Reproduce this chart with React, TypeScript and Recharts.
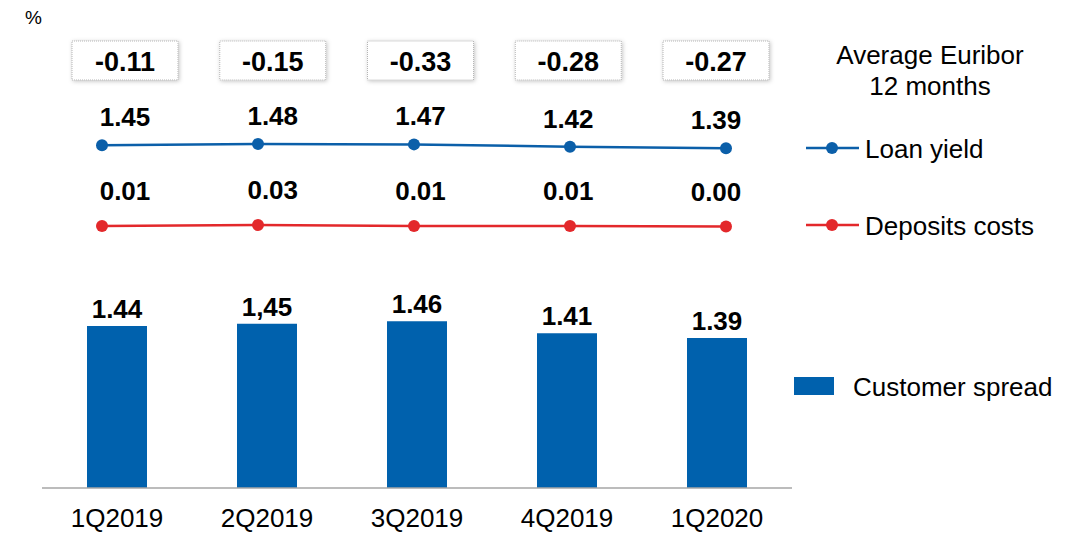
import { Bar, ComposedChart, LabelList, Legend, Line, XAxis, YAxis } from 'recharts'

const quarters = ['1Q2019', '2Q2019', '3Q2019', '4Q2019', '1Q2020']
const euribor = [-0.11, -0.15, -0.33, -0.28, -0.27]
const loanYield = [1.45, 1.48, 1.47, 1.42, 1.39]
const depositsCosts = [0.01, 0.03, 0.01, 0.01, 0.0]
const customerSpread = [1.44, 1.45, 1.46, 1.41, 1.39]
const spreadLabels = ['1.44', '1,45', '1.46', '1.41', '1.39']

const data = quarters.map((q, i) => ({
  quarter: q,
  euribor: euribor[i],
  loan: loanYield[i],
  deposits: depositsCosts[i],
  spread: customerSpread[i],
}))

const FONT = '"Liberation Sans", Arial, sans-serif'
const BLUE_BAR = '#0061ad'
const BLUE_LINE = '#0b5fa9'
const RED_LINE = '#e3282b'

const boldText = (x: number, y: number, text: string, size = 26) => (
  <text x={x} y={y} textAnchor="middle" fontFamily={FONT} fontWeight={700} fontSize={size} fill="#000">
    {text}
  </text>
)

const barLabel = (props: any) => {
  const { x, y, width, index } = props
  return boldText(x + width / 2, y - 8, spreadLabels[index])
}

const pointLabel = (off: number) => (props: any) => {
  const { x, y, value } = props
  return boldText(x, y - off, Number(value).toFixed(2))
}

const euriborBox = (props: any) => {
  const { x, value } = props
  return (
    <g>
      <rect x={x - 53} y={41} width={106} height={39} fill="#fff" stroke="#b5b5b5"
        strokeDasharray="1 1" filter="url(#boxShadow)" />
      {boldText(x, 71, Number(value).toFixed(2), 27)}
    </g>
  )
}

const legendRows: Record<string, number> = { 'Loan yield': 148, 'Deposits costs': 225, 'Customer spread': 386 }

const renderLegend = (props: any) => {
  const seen = new Set<string>()
  const items = (props.payload || []).filter((p: any) => {
    if (!(p.value in legendRows) || seen.has(p.value)) return false
    seen.add(p.value)
    return true
  })
  return (
    <svg width={1087} height={534} style={{ position: 'absolute', left: 0, top: 0 }}>
      <text x={25} y={24} fontFamily={FONT} fontSize={19} fill="#000">%</text>
      <text x={930} y={64} textAnchor="middle" fontFamily={FONT} fontSize={26} fill="#000">Average Euribor</text>
      <text x={930} y={95} textAnchor="middle" fontFamily={FONT} fontSize={26} fill="#000">12 months</text>
      {items.map((p: any) => {
        const cy = legendRows[p.value]
        if (p.value === 'Customer spread') {
          return (
            <g key={p.value}>
              <rect x={794} y={cy - 9} width={40} height={18} fill={p.color} />
              <text x={853} y={cy + 9.5} fontFamily={FONT} fontSize={26} fill="#000">{p.value}</text>
            </g>
          )
        }
        return (
          <g key={p.value}>
            <line x1={806} x2={859} y1={cy} y2={cy} stroke={p.color} strokeWidth={2.5} />
            <circle cx={832} cy={cy} r={6} fill={p.color} />
            <text x={865} y={cy + 9.5} fontFamily={FONT} fontSize={26} fill="#000">{p.value}</text>
          </g>
        )
      })}
    </svg>
  )
}

export default function App() {
  return (
    <div style={{ position: 'absolute', left: 0, top: 0, width: 1087, height: 534, background: '#fff' }}>
      <svg width={0} height={0} style={{ position: 'absolute' }}>
        <defs>
          <filter id="boxShadow" x="-20%" y="-30%" width="140%" height="160%">
            <feDropShadow dx={1} dy={1} stdDeviation={2} floodColor="#000" floodOpacity={0.25} />
          </filter>
        </defs>
      </svg>
      <ComposedChart width={1087} height={534} data={data} margin={{ top: 10, right: 295, bottom: 0, left: 42 }}>
        <XAxis
          xAxisId="bar"
          dataKey="quarter"
          height={46}
          axisLine={{ stroke: '#a6a6a6', strokeWidth: 1.5 }}
          tickLine={false}
          tickMargin={15}
          tick={{ fill: '#000', fontSize: 26, fontFamily: FONT }}
          interval={0}
        />
        <XAxis xAxisId="line" dataKey="quarter" scale="point" padding={{ left: 60, right: 66 }} hide />
        <XAxis xAxisId="lab" dataKey="quarter" scale="point" padding={{ left: 83, right: 76 }} hide />
        <YAxis yAxisId="bar" domain={[0.765, 2.757]} hide />
        <YAxis yAxisId="loan" domain={[-5.69, 4.27]} hide />
        <YAxis yAxisId="dep" domain={[-5.23, 4.33]} hide />
        <YAxis yAxisId="eur" domain={[-1, 1]} hide />
        <Bar xAxisId="bar" yAxisId="bar" dataKey="spread" name="Customer spread" fill={BLUE_BAR}
          barSize={60} isAnimationActive={false}>
          <LabelList dataKey="spread" content={barLabel} />
        </Bar>
        <Line xAxisId="line" yAxisId="loan" dataKey="loan" name="Loan yield" stroke={BLUE_LINE}
          strokeWidth={2.5} dot={{ r: 6, fill: BLUE_LINE, stroke: BLUE_LINE, strokeWidth: 0 }}
          activeDot={false} isAnimationActive={false} />
        <Line xAxisId="line" yAxisId="dep" dataKey="deposits" name="Deposits costs" stroke={RED_LINE}
          strokeWidth={2.5} dot={{ r: 6, fill: RED_LINE, stroke: RED_LINE, strokeWidth: 0 }}
          activeDot={false} isAnimationActive={false} />
        <Line xAxisId="lab" yAxisId="loan" dataKey="loan" name="loanLabels" stroke="none" dot={false}
          activeDot={false} legendType="none" isAnimationActive={false}>
          <LabelList dataKey="loan" content={pointLabel(19)} />
        </Line>
        <Line xAxisId="lab" yAxisId="dep" dataKey="deposits" name="depositLabels" stroke="none" dot={false}
          activeDot={false} legendType="none" isAnimationActive={false}>
          <LabelList dataKey="deposits" content={pointLabel(26)} />
        </Line>
        <Line xAxisId="lab" yAxisId="eur" dataKey="euribor" name="euriborBoxes" stroke="none" dot={false}
          activeDot={false} legendType="none" isAnimationActive={false}>
          <LabelList dataKey="euribor" content={euriborBox} />
        </Line>
        <Legend
          layout="horizontal"
          verticalAlign="middle"
          align="center"
          content={renderLegend}
          wrapperStyle={{ position: 'absolute', left: 0, top: 0, width: 1087, height: 534, pointerEvents: 'none' }}
        />
      </ComposedChart>
    </div>
  )
}
